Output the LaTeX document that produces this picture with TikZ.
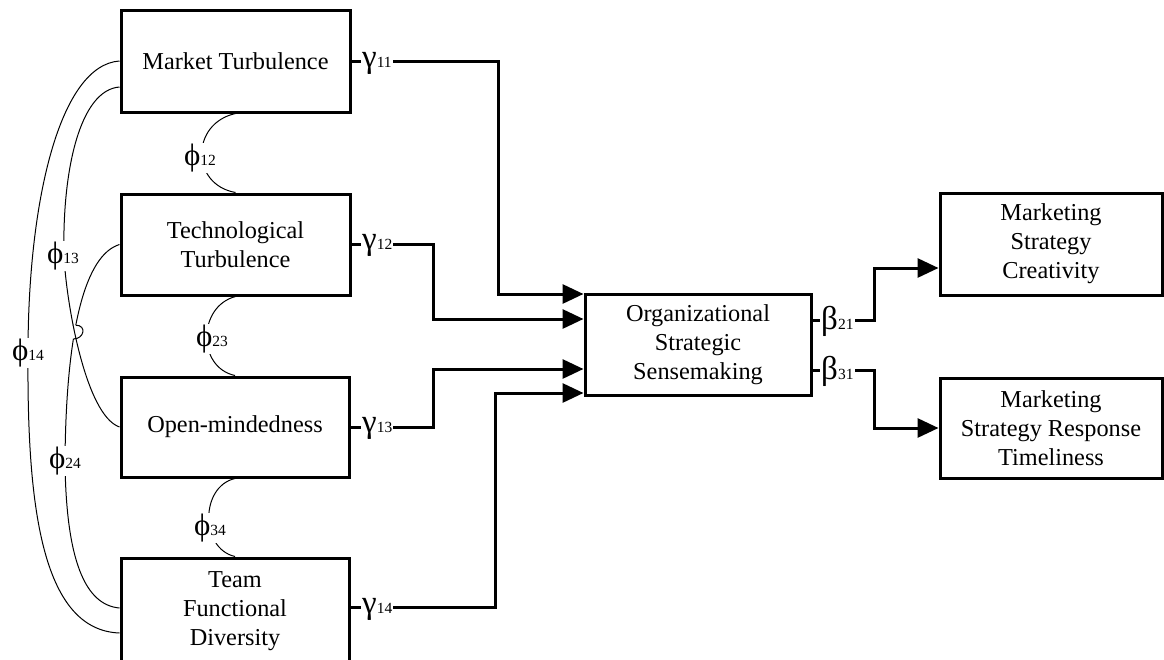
\documentclass[tikz,border=0pt]{standalone}
\usepackage{fontspec}
\setmainfont{Liberation Serif}
\usetikzlibrary{arrows.meta,calc,intersections}
% path coefficient: large Greek letter followed by small index digits
\newcommand\coefl[2]{{\fontsize{33}{33}\selectfont #1}{\fontsize{15.5}{16}\selectfont #2}}
\newcommand\phil[1]{{\fontsize{31}{31}\selectfont ϕ}{\fontsize{15.5}{16}\selectfont #1}}
\begin{document}
\begin{tikzpicture}[x=1pt,y=-1pt,
  box/.style={draw, line width=3pt, align=center, inner sep=0pt,
              font=\fontsize{24.3}{29}\selectfont},
  arr/.style={line width=3pt, -{Triangle[length=21pt,width=19pt]}},
  corr/.style={line width=1pt},
  coef/.style={fill=white, inner sep=1pt, anchor=base west},
  plab/.style={fill=white, inner sep=1pt}]
\useasboundingbox (0,0) rectangle (1164,659);

% constructs
\node[box, minimum width=229pt, minimum height=102pt] (mt)  at (235.5,61)    {Market Turbulence};
\node[box, minimum width=229pt, minimum height=101pt] (tt)  at (235.5,244.5) {Technological\\Turbulence};
\node[box, minimum width=228pt, minimum height=100pt] (om)  at (235,427)     {Open-mindedness};
\node[box, minimum width=228pt, minimum height=106pt] (tfd) at (235,611)     {Team\\Functional\\Diversity};
\node[box, minimum width=226pt, minimum height=101pt] (oss) at (698,344.5)   {Organizational\\Strategic\\Sensemaking};
\node[box, minimum width=222pt, minimum height=102pt] (msc) at (1051,244)    {Marketing\\Strategy\\Creativity};
\node[box, minimum width=222pt, minimum height=100pt] (msr) at (1051,428)    {Marketing\\Strategy Response\\Timeliness};

% elbows of the structural paths
\coordinate (k11) at (498,294);
\coordinate (k12) at (433,319);
\coordinate (k13) at (433,369);
\coordinate (k14) at (495,393);
\coordinate (b21) at (874,268);
\coordinate (b31) at (874,428);

% structural paths
\draw[arr] (mt.east) -| (k11) -- (k11 -| oss.west);
\draw[arr] (tt.east) -| (k12) -- (k12 -| oss.west);
\draw[arr] (om.east) -| (k13) -- (k13 -| oss.west);
\draw[arr] ($(tfd.east)+(0,-4)$) -| (k14) -- (k14 -| oss.west);
\draw[arr] ($(oss.east)+(0,-24.5)$) -| (b21) -- (b21 -| msc.west);
\draw[arr] ($(oss.east)+(0,25.5)$) -| (b31) -- (msr.west);

% correlations between exogenous constructs
\draw[corr] (mt.south) .. controls +(-45,10) and +(-45,-8) .. (tt.north);
\draw[corr] (tt.south) .. controls +(-38,10) and +(-38,-8) .. (om.north);
\draw[corr] (om.south) .. controls +(-35,8) and +(-35,-8) .. (tfd.north);
\draw[corr, name path=p13] ($(mt.west)+(0,26)$) .. controls (80,90) and (62,170) .. (64,256)
      .. controls (66,300) and (85,415) .. (om.west);
\draw[corr] (mt.west) .. controls (60,65) and (28,200) .. (28,353)
      .. controls (27,500) and (40,630) .. ($(tfd.west)+(0,22)$);
\draw[corr, name path=p24] (tt.west) .. controls (85,255) and (66,330) .. (65,461)
      .. controls (66,560) and (85,605) .. ($(tfd.west)+(0,-3)$);

% line jump where the phi24 curve crosses the phi13 curve
\path[name intersections={of=p13 and p24, by=xc}];
\fill[white] (xc) circle[radius=7pt];
\begin{scope}
  \clip (xc) circle[radius=7.5pt];
  \draw[corr] ($(mt.west)+(0,26)$) .. controls (80,90) and (62,170) .. (64,256)
        .. controls (66,300) and (85,415) .. (om.west);
\end{scope}
\path[name path=ring] (xc) circle[radius=7pt];
\path[name intersections={of=p24 and ring, by={h1,h2}}];
\draw[corr] (h1) .. controls ($(h1)+(11,0)$) and ($(h2)+(11,0)$) .. (h2);

% path coefficients
\node[coef] (g11) at (361,67)  {\coefl{γ}{11}};
\node[coef] (g12) at (361,249) {\coefl{γ}{12}};
\node[coef] (g13) at (361,432) {\coefl{γ}{13}};
\node[coef] (g14) at (361,613) {\coefl{γ}{14}};
\node[coef] (b21l) at (820,329) {\coefl{β}{21}};
\node[coef] (b31l) at (820,379) {\coefl{β}{31}};

% correlation labels
\node[plab] (f12) at (200,158) {\phil{12}};
\node[plab] (f23) at (212,339) {\phil{23}};
\node[plab] (f34) at (210,528) {\phil{34}};
\node[plab] (f13) at (63,256)  {\phil{13}};
\node[plab] (f14) at (28,353)  {\phil{14}};
\node[plab] (f24) at (65,461)  {\phil{24}};
\end{tikzpicture}
\end{document}
